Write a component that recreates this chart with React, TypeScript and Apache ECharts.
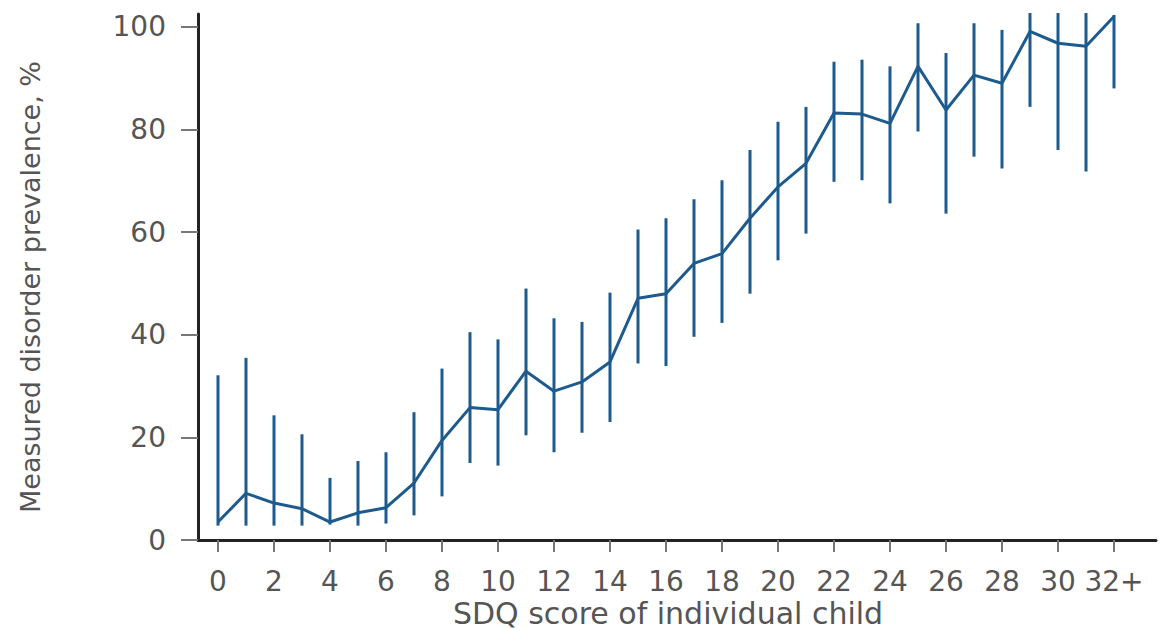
import React, { useEffect, useRef } from "react";
import * as echarts from "echarts";

const scores = [0, 1, 2, 3, 4, 5, 6, 7, 8, 9, 10, 11, 12, 13, 14, 15, 16, 17, 18, 19, 20, 21, 22, 23, 24, 25, 26, 27, 28, 29, 30, 31, 32];
const prevalence = [3.5, 9.1, 7.2, 6.1, 3.5, 5.3, 6.3, 11.1, 19.4, 25.8, 25.4, 32.9, 29.0, 30.8, 34.7, 47.1, 48.0, 53.9, 55.8, 62.7, 68.8, 73.4, 83.2, 83.0, 81.2, 92.3, 83.8, 90.6, 89.0, 99.1, 96.8, 96.2, 102.0];
const upper = [32.1, 35.5, 24.3, 20.6, 12.1, 15.4, 17.1, 24.9, 33.4, 40.5, 39.1, 49.0, 43.2, 42.5, 48.2, 60.5, 62.7, 66.4, 70.1, 76.0, 81.5, 84.4, 93.2, 93.6, 92.3, 100.7, 94.9, 100.7, 99.4, 102.7, 102.7, 102.7, 102.3];
const lower = [2.8, 2.8, 2.8, 2.8, 3.0, 2.8, 3.2, 4.8, 8.5, 15.0, 14.5, 20.4, 17.1, 20.9, 23.0, 34.4, 33.9, 39.6, 42.3, 48.0, 54.5, 59.7, 69.8, 70.1, 65.6, 79.6, 63.6, 74.7, 72.4, 84.4, 76.0, 71.8, 88.0];
const xTicks = [0, 2, 4, 6, 8, 10, 12, 14, 16, 18, 20, 22, 24, 26, 28, 30, 32];
const yTicks = [0, 20, 40, 60, 80, 100];
const xTitle = "SDQ score of individual child";
const yTitle = "Measured disorder prevalence, %";

const BLUE = "#1d5a8e";
const TEXT = "#555555";
const FONT = "'DejaVu Sans', sans-serif";

export default function App() {
  const ref = useRef<HTMLDivElement>(null);
  useEffect(() => {
    const chart = echarts.init(ref.current!, null, { renderer: "svg" });
    chart.setOption({
      animation: false,
      backgroundColor: "#ffffff",
      grid: { left: 198, right: 5, top: 14, bottom: 89, containLabel: false, outerBoundsMode: "none" },
      graphic: [
        {
          type: "text",
          x: 668,
          y: 613,
          style: {
            text: xTitle,
            fontFamily: FONT,
            fontSize: 30,
            lineHeight: 30,
            fill: TEXT,
            align: "center",
            verticalAlign: "middle",
          },
        },
        {
          type: "text",
          x: 30,
          y: 287,
          rotation: Math.PI / 2,
          style: {
            text: yTitle,
            fontFamily: FONT,
            fontSize: 27,
            lineHeight: 27,
            fill: TEXT,
            align: "center",
            verticalAlign: "middle",
          },
        },
      ],
      xAxis: {
        type: "value",
        min: -0.714,
        max: 33.5,
        axisLine: { show: true, onZero: false, lineStyle: { color: "#222", width: 3 } },
        axisTick: { show: true, customValues: xTicks, length: 12, lineStyle: { color: "#777", width: 2 } },
        axisLabel: {
          customValues: xTicks,
          margin: 27,
          fontFamily: FONT,
          fontSize: 28,
          lineHeight: 28,
          color: TEXT,
          formatter: (v: number) => (v === 32 ? "32+" : String(v)),
        },
        splitLine: { show: false },
      },
      yAxis: {
        type: "value",
        min: 0,
        max: 102.5,
        axisLine: { show: true, onZero: false, lineStyle: { color: "#222", width: 3 } },
        axisTick: { show: true, customValues: yTicks, length: 17, lineStyle: { color: "#777", width: 2 } },
        axisLabel: { customValues: yTicks, margin: 32, fontFamily: FONT, fontSize: 28, color: TEXT },
        splitLine: { show: false },
      },
      series: [
        {
          type: "custom",
          clip: false,
          data: scores.map((s, i) => [s, lower[i], upper[i]]),
          renderItem: (params: any, api: any) => {
            const p1 = api.coord([api.value(0), api.value(1)]);
            const p2 = api.coord([api.value(0), api.value(2)]);
            return {
              type: "line",
              shape: { x1: p1[0], y1: p1[1], x2: p2[0], y2: p2[1] },
              style: { stroke: BLUE, lineWidth: 3 },
            };
          },
          z: 2,
        },
        {
          type: "line",
          data: scores.map((s, i) => [s, prevalence[i]]),
          symbol: "none",
          clip: false,
          lineStyle: { color: BLUE, width: 3 },
          z: 3,
        },
      ],
    });
    return () => chart.dispose();
  }, []);
  return <div ref={ref} style={{ position: "fixed", left: 0, top: 0, width: 1161, height: 629 }} />;
}
